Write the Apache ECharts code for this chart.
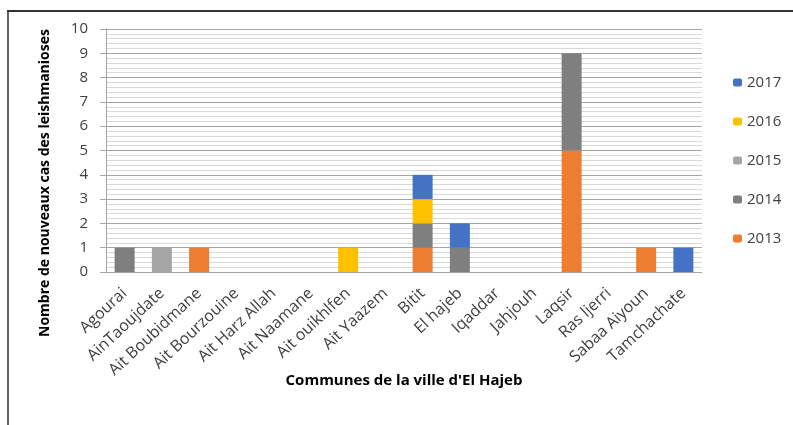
<!DOCTYPE html>
<html>
<head>
<meta charset="utf-8">
<script src="https://cdn.jsdelivr.net/npm/echarts@6/dist/echarts.min.js"></script>
<style>
  html, body { margin: 0; padding: 0; background: #fff; }
  #chart { width: 793px; height: 425px; }
</style>
</head>
<body>
<div id="chart"></div>
<script>
// communes + cases per year
const communes = ['Agourai', 'AinTaoujdate', 'Ait Boubidmane', 'Ait Bourzouine', 'Ait Harz Allah',
  'Ait Naamane', 'Ait ouikhlfen', 'Ait Yaazem', 'Bitit', 'El hajeb', 'Iqaddar', 'Jahjouh',
  'Laqsir', 'Ras ljerri', 'Sabaa Aiyoun', 'Tamchachate'];
const years = ['2013', '2014', '2015', '2016', '2017'];
const y2013 = [0, 0, 1, 0, 0, 0, 0, 0, 1, 0, 0, 0, 5, 0, 1, 0];
const y2014 = [1, 0, 0, 0, 0, 0, 0, 0, 1, 1, 0, 0, 4, 0, 0, 0];
const y2015 = [0, 1, 0, 0, 0, 0, 0, 0, 0, 0, 0, 0, 0, 0, 0, 0];
const y2016 = [0, 0, 0, 0, 0, 0, 1, 0, 1, 0, 0, 0, 0, 0, 0, 0];
const y2017 = [0, 0, 0, 0, 0, 0, 0, 0, 1, 1, 0, 0, 0, 0, 0, 1];
const colors = ['#ED7D31', '#7F7F7F', '#A5A5A5', '#FFC000', '#4472C4'];

const font = 'Open Sans';
const myChart = echarts.init(document.getElementById('chart'));

const seriesData = [y2013, y2014, y2015, y2016, y2017];
const series = years.map((y, i) => ({
  name: y,
  type: 'bar',
  stack: 'total',
  barWidth: 20,
  itemStyle: { color: colors[i] },
  data: seriesData[i]
}));

const option = {
  animation: false,
  textStyle: { fontFamily: font },
  grid: { left: 106, right: 91, top: 29, bottom: 153 },
  legend: {
    orient: 'vertical',
    left: 728,
    top: 70,
    itemWidth: 9,
    itemHeight: 8,
    itemGap: 24,
    data: years.slice().reverse(),
    textStyle: { fontFamily: font, fontSize: 15, color: '#404040' }
  },
  xAxis: {
    type: 'category',
    data: communes,
    axisLine: { lineStyle: { color: '#a6a6a6' } },
    axisTick: { show: false },
    axisLabel: {
      interval: 0, rotate: 43, margin: 19,
      fontFamily: font, fontSize: 16, color: '#404040'
    },
    name: "Communes de la ville d'El Hajeb",
    nameLocation: 'middle',
    nameGap: 101,
    nameMoveOverlap: false,
    nameTextStyle: { fontFamily: font, fontSize: 15, fontWeight: 'bold', color: '#000' }
  },
  yAxis: {
    type: 'value',
    min: 0,
    max: 10,
    interval: 1,
    axisLine: { show: true, lineStyle: { color: '#a6a6a6' } },
    axisTick: { show: true, length: 6, lineStyle: { color: '#a6a6a6' } },
    axisLabel: { margin: 18, fontFamily: font, fontSize: 15, color: '#404040' },
    splitLine: { lineStyle: { color: '#a6a6a6' } },
    minorTick: { show: false, splitNumber: 5 },
    minorSplitLine: { show: true, lineStyle: { color: '#d9d9d9' } }
  },
  graphic: [
    {
      type: 'text',
      x: 45, y: 183,
      rotation: Math.PI / 2,
      style: {
        text: 'Nombre de nouveaux cas des leishmanioses',
        font: 'bold 14px "Open Sans"',
        fill: '#000',
        align: 'center',
        verticalAlign: 'middle'
      }
    },
    { type: 'line', shape: { x1: 7, y1: 11, x2: 793, y2: 11 }, style: { stroke: '#333', lineWidth: 2 } },
    { type: 'line', shape: { x1: 8, y1: 11, x2: 8, y2: 425 }, style: { stroke: '#333', lineWidth: 1.5 } }
  ],
  series: series
};

myChart.setOption(option);
</script>
</body>
</html>
